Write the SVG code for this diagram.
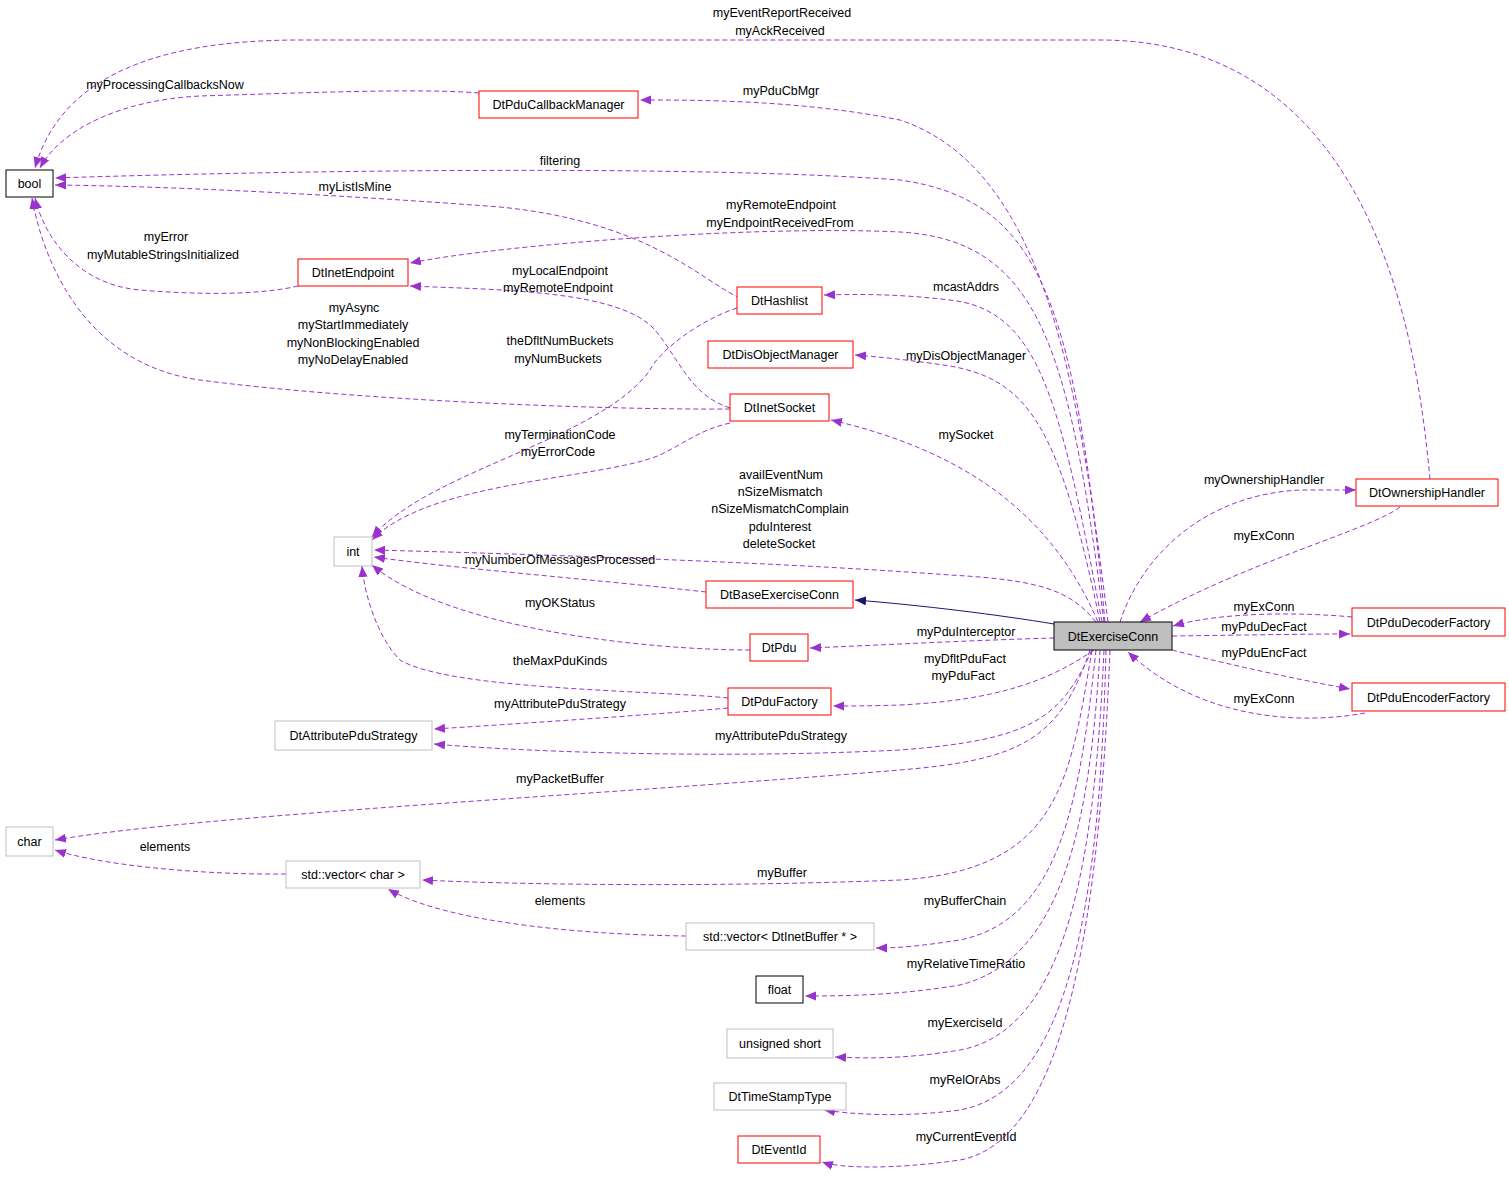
<svg xmlns="http://www.w3.org/2000/svg" width="1509" height="1185" viewBox="0 0 1509 1185">
<style>
text{font-family:"Liberation Sans",Arial,sans-serif;font-size:12.5px;fill:#000}
.n text{text-anchor:middle}
.red{fill:#fff;stroke:#ff0000;stroke-width:1}
.grey{fill:#fff;stroke:#bfbfbf;stroke-width:1}
.blk{fill:#fff;stroke:#000;stroke-width:1}
.e path{fill:none;stroke:#9a32cd;stroke-width:1;stroke-dasharray:5,3;marker-end:url(#a)}
.e path.inh{stroke:#191970;stroke-dasharray:none;marker-end:url(#b)}
.l text{text-anchor:middle}
</style>
<defs>
<marker id="a" markerUnits="userSpaceOnUse" markerWidth="12" markerHeight="10" refX="11" refY="4.5" orient="auto"><path d="M0,0 L11,4.5 L0,9 z" fill="#9a32cd"/></marker>
<marker id="b" markerUnits="userSpaceOnUse" markerWidth="12" markerHeight="10" refX="11" refY="4.5" orient="auto"><path d="M0,0 L11,4.5 L0,9 z" fill="#191970"/></marker>
</defs>
<rect width="1509" height="1185" fill="#fff"/>
<g id="edges" class="e">
<path d="M1430,479 C1420,380 1390,40 1100,40 L300,40 C150,40 60,80 35,168"/>
<path d="M479,93 C420,88 300,93 200,96 C120,100 60,130 40,168"/>
<path d="M1108,622 C1080,400 1050,170 900,120 C800,100 700,100 640,100"/>
<path d="M1105,622 C1075,300 1040,200 900,180 C700,165 300,170 55,178"/>
<path d="M740,298 C700,280 650,222 500,207 C300,192 150,186 55,185"/>
<path d="M1104,622 C1070,350 1040,240 900,232 C750,225 500,245 410,263"/>
<path d="M298,286 C260,295 200,295 140,290 C80,285 45,240 35,198"/>
<path d="M730,408 C690,395 680,360 655,330 C620,290 500,290 410,286"/>
<path d="M730,409 C600,410 350,400 200,380 C90,365 45,270 32,198"/>
<path d="M1102,622 C1060,400 1040,310 950,300 C900,294 860,294 824,295"/>
<path d="M737,308 C700,320 660,350 650,370 C600,440 430,470 372,537"/>
<path d="M1100,622 C1060,430 1030,380 950,366 C910,360 880,357 855,355"/>
<path d="M1098,622 C1050,510 960,450 831,420"/>
<path d="M730,423 C700,430 690,440 660,455 C600,480 430,480 372,540"/>
<path d="M1096,622 C1070,590 1040,580 950,575 C750,560 450,552 374,550"/>
<path d="M706,592 C600,580 450,568 374,557"/>
<path d="M750,650 C650,650 450,630 372,565"/>
<path d="M728,698 C650,690 450,690 400,660 C380,640 365,600 362,566"/>
<path class="inh" d="M1054,624 C1000,615 920,605 855,600"/>
<path d="M1054,638 C980,640 880,645 810,648"/>
<path d="M1094,650 C1050,680 1000,700 900,705 C870,706 850,706 833,706"/>
<path d="M728,708 C650,715 500,725 434,729"/>
<path d="M1092,650 C1060,720 1030,740 900,750 C700,760 500,750 434,744"/>
<path d="M1090,650 C1060,740 1020,760 900,770 C600,795 200,815 55,840"/>
<path d="M286,874 C200,875 100,865 55,850"/>
<path d="M1092,650 C1070,780 1060,870 900,880 C700,888 500,884 422,880"/>
<path d="M686,936 C600,935 450,925 388,889"/>
<path d="M1096,650 C1080,800 1060,920 960,940 C920,946 900,948 876,948"/>
<path d="M1100,650 C1090,830 1060,960 960,985 C900,995 850,996 805,996"/>
<path d="M1104,650 C1095,850 1070,1030 960,1050 C900,1060 860,1058 835,1057"/>
<path d="M1106,650 C1100,900 1070,1090 960,1110 C900,1118 850,1114 824,1110"/>
<path d="M1110,650 C1100,900 1070,1140 960,1160 C890,1170 840,1168 822,1162"/>
<path d="M1120,622 C1140,560 1200,495 1300,490 L1356,490"/>
<path d="M1400,507 C1370,530 1250,560 1140,622"/>
<path d="M1352,617 C1300,612 1220,612 1173,626"/>
<path d="M1172,636 C1250,635 1300,634 1350,634"/>
<path d="M1172,650 C1230,665 1300,680 1350,689"/>
<path d="M1365,713 C1300,725 1200,720 1128,652"/>
</g>
<g id="labels" class="l">
<text x="782" y="17">myEventReportReceived</text>
<text x="780" y="35">myAckReceived</text>
<text x="165" y="89">myProcessingCallbacksNow</text>
<text x="781" y="95">myPduCbMgr</text>
<text x="560" y="165">filtering</text>
<text x="355" y="191">myListIsMine</text>
<text x="781" y="209">myRemoteEndpoint</text>
<text x="780" y="227">myEndpointReceivedFrom</text>
<text x="166" y="241">myError</text>
<text x="163" y="259">myMutableStringsInitialized</text>
<text x="560" y="275">myLocalEndpoint</text>
<text x="558" y="292">myRemoteEndpoint</text>
<text x="966" y="291">mcastAddrs</text>
<text x="354" y="312">myAsync</text>
<text x="353" y="329">myStartImmediately</text>
<text x="353" y="347">myNonBlockingEnabled</text>
<text x="353" y="364">myNoDelayEnabled</text>
<text x="560" y="345">theDfltNumBuckets</text>
<text x="558" y="363">myNumBuckets</text>
<text x="966" y="360">myDisObjectManager</text>
<text x="966" y="439">mySocket</text>
<text x="560" y="439">myTerminationCode</text>
<text x="558" y="456">myErrorCode</text>
<text x="781" y="479">availEventNum</text>
<text x="780" y="496">nSizeMismatch</text>
<text x="780" y="513">nSizeMismatchComplain</text>
<text x="780" y="531">pduInterest</text>
<text x="779" y="548">deleteSocket</text>
<text x="1264" y="484">myOwnershipHandler</text>
<text x="1264" y="540">myExConn</text>
<text x="560" y="564">myNumberOfMessagesProcessed</text>
<text x="560" y="607">myOKStatus</text>
<text x="1264" y="611">myExConn</text>
<text x="1264" y="631">myPduDecFact</text>
<text x="966" y="636">myPduInterceptor</text>
<text x="1264" y="657">myPduEncFact</text>
<text x="965" y="663">myDfltPduFact</text>
<text x="963" y="680">myPduFact</text>
<text x="560" y="665">theMaxPduKinds</text>
<text x="1264" y="703">myExConn</text>
<text x="560" y="708">myAttributePduStrategy</text>
<text x="781" y="740">myAttributePduStrategy</text>
<text x="560" y="783">myPacketBuffer</text>
<text x="165" y="851">elements</text>
<text x="782" y="877">myBuffer</text>
<text x="560" y="905">elements</text>
<text x="965" y="905">myBufferChain</text>
<text x="966" y="968">myRelativeTimeRatio</text>
<text x="965" y="1027">myExerciseId</text>
<text x="965" y="1084">myRelOrAbs</text>
<text x="966" y="1141">myCurrentEventId</text>
</g>
<g id="bool" class="n"><rect class="blk" x="6" y="170" width="47" height="27"/><text x="29.5" y="188">bool</text></g>
<g id="DtPduCallbackManager" class="n"><rect class="red" x="479" y="91" width="159" height="27"/><text x="558.5" y="109">DtPduCallbackManager</text></g>
<g id="DtInetEndpoint" class="n"><rect class="red" x="298" y="259" width="110" height="27"/><text x="353" y="277">DtInetEndpoint</text></g>
<g id="DtHashlist" class="n"><rect class="red" x="737" y="287" width="85" height="27"/><text x="779.5" y="305">DtHashlist</text></g>
<g id="DtDisObjectManager" class="n"><rect class="red" x="708" y="341" width="145" height="27"/><text x="780.5" y="359">DtDisObjectManager</text></g>
<g id="DtInetSocket" class="n"><rect class="red" x="730" y="394" width="99" height="27"/><text x="779.5" y="412">DtInetSocket</text></g>
<g id="int" class="n"><rect class="grey" x="334" y="537" width="38" height="29"/><text x="353" y="556">int</text></g>
<g id="DtBaseExerciseConn" class="n"><rect class="red" x="706" y="581" width="147" height="27"/><text x="779.5" y="599">DtBaseExerciseConn</text></g>
<g id="DtPdu" class="n"><rect class="red" x="750" y="634" width="58" height="27"/><text x="779" y="652">DtPdu</text></g>
<g id="DtPduFactory" class="n"><rect class="red" x="728" y="688" width="103" height="27"/><text x="779.5" y="706">DtPduFactory</text></g>
<g id="DtAttributePduStrategy" class="n"><rect class="grey" x="275" y="721" width="157" height="29"/><text x="353.5" y="740">DtAttributePduStrategy</text></g>
<g id="char" class="n"><rect class="grey" x="6" y="827" width="47" height="29"/><text x="29.5" y="846">char</text></g>
<g id="vector_char" class="n"><rect class="grey" x="286" y="861" width="134" height="27"/><text x="353" y="879">std::vector&lt; char &gt;</text></g>
<g id="vector_buf" class="n"><rect class="grey" x="686" y="923" width="188" height="27"/><text x="780" y="941">std::vector&lt; DtInetBuffer * &gt;</text></g>
<g id="float" class="n"><rect class="blk" x="756" y="976" width="47" height="27"/><text x="779.5" y="994">float</text></g>
<g id="unsigned_short" class="n"><rect class="grey" x="727" y="1029" width="106" height="29"/><text x="780" y="1048">unsigned short</text></g>
<g id="DtTimeStampType" class="n"><rect class="grey" x="714" y="1083" width="132" height="27"/><text x="780" y="1101">DtTimeStampType</text></g>
<g id="DtEventId" class="n"><rect class="red" x="738" y="1136" width="82" height="27"/><text x="779" y="1154">DtEventId</text></g>
<g id="DtExerciseConn" class="n"><rect x="1054" y="622" width="118" height="28" fill="#bfbfbf" stroke="#000"/><text x="1113" y="641">DtExerciseConn</text></g>
<g id="DtOwnershipHandler" class="n"><rect class="red" x="1356" y="479" width="142" height="27"/><text x="1427" y="497">DtOwnershipHandler</text></g>
<g id="DtPduDecoderFactory" class="n"><rect class="red" x="1352" y="608" width="153" height="28"/><text x="1428.5" y="627">DtPduDecoderFactory</text></g>
<g id="DtPduEncoderFactory" class="n"><rect class="red" x="1352" y="683" width="153" height="28"/><text x="1428.5" y="702">DtPduEncoderFactory</text></g>
</svg>
